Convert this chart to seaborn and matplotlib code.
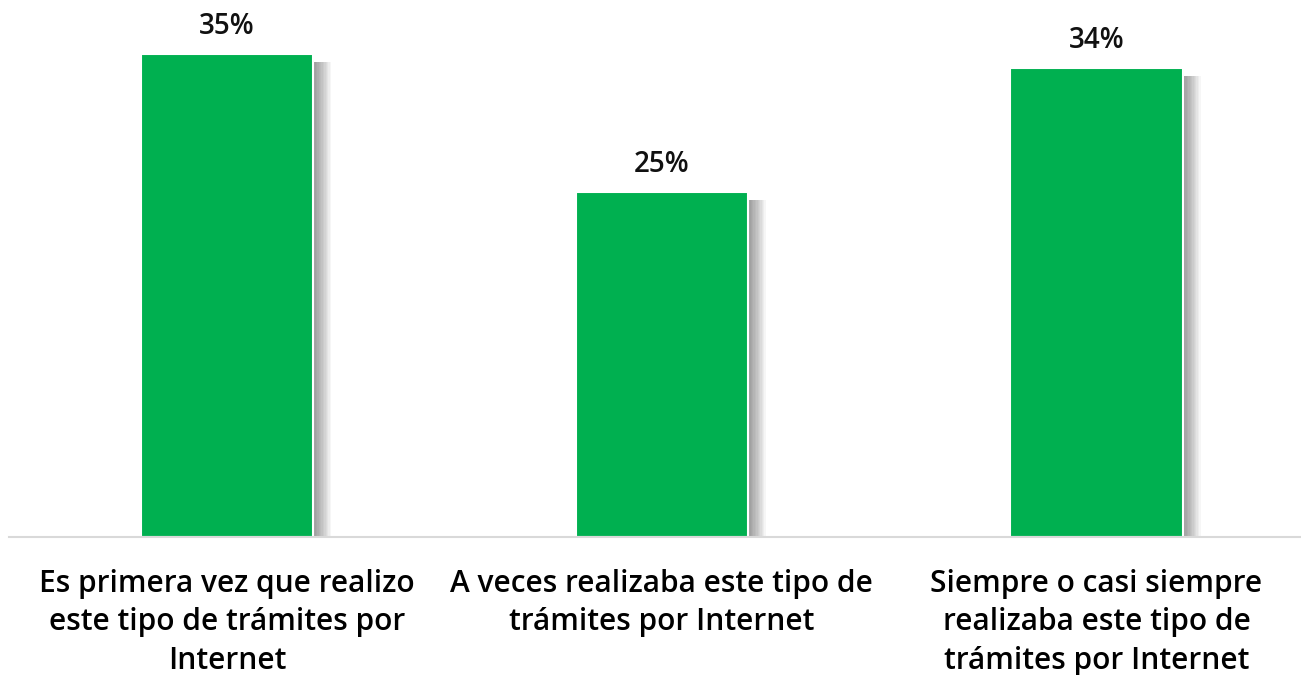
import matplotlib
matplotlib.use("Agg")
import matplotlib.pyplot as plt
import matplotlib.patheffects as pe
import seaborn as sns
import pandas as pd

categories = [
    "Es primera vez que realizo\neste tipo de trámites por\nInternet",
    "A veces realizaba este tipo de\ntrámites por Internet",
    "Siempre o casi siempre\nrealizaba este tipo de\ntrámites por Internet",
]
values = [35, 25, 34]

df = pd.DataFrame({"categoria": categories, "porcentaje": values})

sns.set_theme(style="white")
plt.rcParams["font.family"] = ["Open Sans", "DejaVu Sans"]

fig = plt.figure(figsize=(13.01, 6.75), dpi=100)
ax = fig.add_axes([9 / 1301, 138 / 675, 1292 / 1301, 537 / 675])

sns.barplot(data=df, x="categoria", y="porcentaje", color="#00B050",
            saturation=1, width=0.396, edgecolor="white", linewidth=1.5,
            ax=ax)

# soft drop shadow on the right side of each bar
shadow = [pe.SimplePatchShadow(offset=(k, -6), shadow_rgbFace="black", alpha=0.035)
          for k in range(1, 14)]
for patch in ax.patches:
    patch.set_path_effects(shadow + [pe.Normal()])

for patch, v in zip(ax.patches, values):
    ax.annotate(f"{v}%", (patch.get_x() + patch.get_width() / 2, patch.get_height()),
                xytext=(0, 14), textcoords="offset points", ha="center", va="baseline",
                fontsize=20, fontweight="semibold", color="#111111")

ax.set_xlim(-0.5014, 2.4704)
ax.set_ylim(0, 38.9)
ax.set_xlabel("")
ax.set_ylabel("")
ax.set_yticks([])
for side in ["top", "left", "right"]:
    ax.spines[side].set_visible(False)
ax.spines["bottom"].set_color("#d9d9d9")
ax.spines["bottom"].set_linewidth(1.5)
ax.tick_params(axis="x", length=0, pad=23, labelsize=21.5, labelcolor="black")
for lbl in ax.get_xticklabels():
    lbl.set_linespacing(1.36)
    lbl.set_fontweight("semibold")

fig.savefig("out.png", dpi=100, facecolor="white")
